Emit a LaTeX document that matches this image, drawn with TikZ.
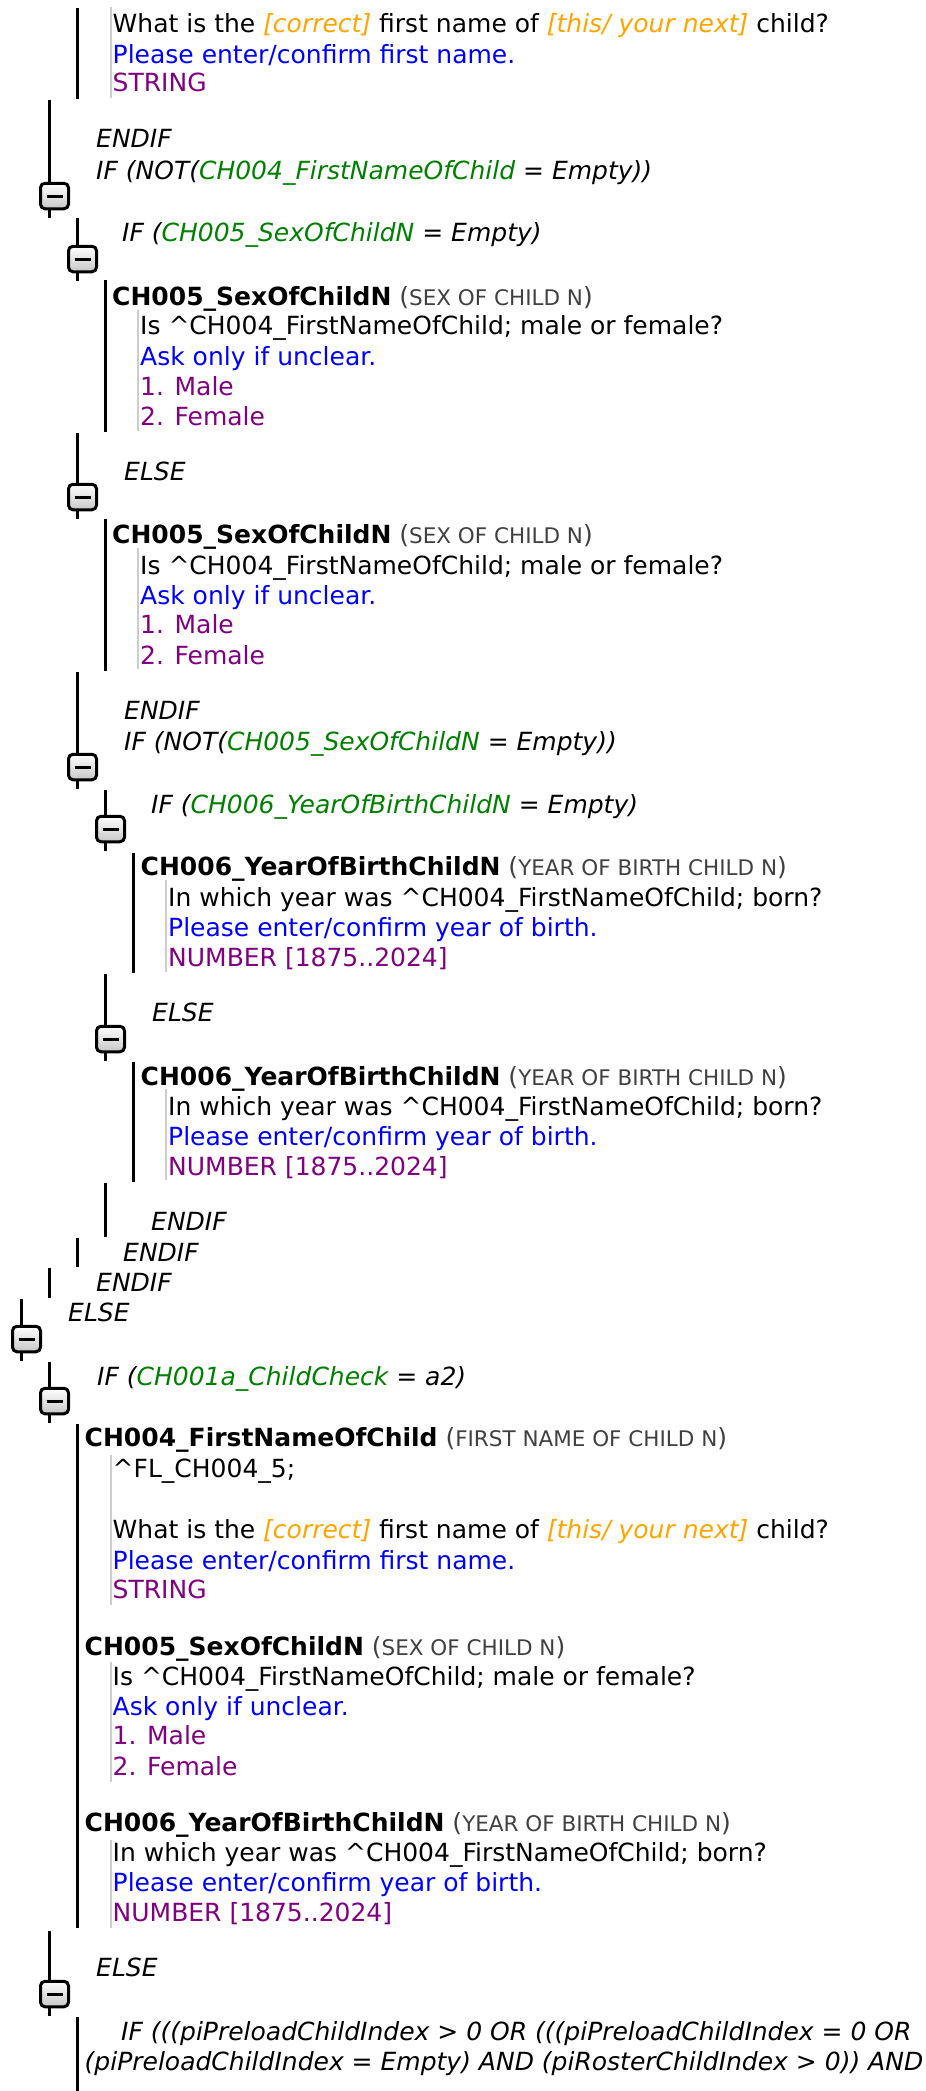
\documentclass[tikz,border=0pt]{standalone}
\usepackage{fontspec}
\setmainfont{DejaVu Sans}
\usepackage{tikz}
\usetikzlibrary{positioning}

\definecolor{qorange}{RGB}{255,165,0}
\definecolor{qblue}{RGB}{0,0,255}
\definecolor{qpurple}{RGB}{128,0,128}
\definecolor{qgreen}{RGB}{0,128,0}
\definecolor{qgray}{RGB}{64,64,64}
\definecolor{qrule}{RGB}{205,205,205}

\begin{document}
\begin{tikzpicture}[x=1pt, y=-1pt,
  body/.style={anchor=base west, inner sep=0pt, font=\fontsize{25}{30}\selectfont},
  cond/.style={body, font=\fontsize{25}{30}\selectfont\itshape},
  head/.style={body},
  rail/.style={line width=3.8pt},
  guide/.style={draw=qrule, line width=1.4pt},
  toggle/.style={draw, line width=3pt, rounded corners=4.5pt, minimum width=28pt,
    minimum height=25.5pt, inner sep=0pt, top color=white, bottom color=black!22,
    path picture={\draw [line width=3pt] ([xshift=-8pt]path picture bounding box.center)
      -- ([xshift=8pt]path picture bounding box.center);}}]

\path [use as bounding box, fill=white] (0,0) rectangle (926,2091);

\foreach \x/\a/\b in {77.5/8/99, 105.5/280/432, 105.5/519/671, 133.5/853/973,
    133.5/1062/1182, 105.5/1183/1237, 77.5/1238/1267, 49.5/1268/1298,
    77.5/1424/1928, 77.5/2017/2091}
  \draw [rail] (\x,\a) -- (\x,\b);

\foreach \x/\a/\b [count=\i] in {49.5/100/182, 77.5/218/245, 77.5/433/483,
    77.5/672/753, 105.5/790/815, 105.5/974/1025, 21.5/1299/1325,
    49.5/1362/1387, 49.5/1931/1980}
{
  \node [toggle] (toggle-\i) at (\x+5,\b+14) {};
  \draw [rail] (\x,\a) -- ([xshift=-5pt]toggle-\i.north);
  \draw [rail] ([xshift=-5pt]toggle-\i.south) -- ++(0,8);
}

\foreach \x/\a/\b in {111/7/98, 138/310/431, 138/548/669, 166/880/972,
    166/1089/1180, 111/1455/1605, 111/1662/1782, 111/1840/1928}
  \draw [guide] (\x,\a) -- (\x,\b);

\foreach \x/\y/\n/\l [count=\i] in {112/305/CH005\_SexOfChildN/SEX OF CHILD N,
    112/543/CH005\_SexOfChildN/SEX OF CHILD N,
    140.5/875/CH006\_YearOfBirthChildN/YEAR OF BIRTH CHILD N,
    140.5/1085/CH006\_YearOfBirthChildN/YEAR OF BIRTH CHILD N,
    84.5/1446/CH004\_FirstNameOfChild/FIRST NAME OF CHILD N,
    84.5/1655/CH005\_SexOfChildN/SEX OF CHILD N,
    84.5/1831/CH006\_YearOfBirthChildN/YEAR OF BIRTH CHILD N}
  \node [head] (head-\i) at (\x,\y)
    {\textbf{\n} \textcolor{qgray}{({\fontsize{21.5}{24}\selectfont\l})}};

\foreach \x/\y/\col/\l [count=\i] in {
    112.5/32/black/{What is the \textcolor{qorange}{\itshape[correct]} first name of \textcolor{qorange}{\itshape[this/ your next]} child?},
    112.5/63/qblue/{Please enter/confirm first name.},
    112.5/91/qpurple/{STRING},
    140/334/black/{Is \textasciicircum CH004\_FirstNameOfChild; male or female?},
    140/365/qblue/{Ask only if unclear.},
    140/395/qpurple/{1. Male},
    140/425/qpurple/{2. Female},
    140/574/black/{Is \textasciicircum CH004\_FirstNameOfChild; male or female?},
    140/604/qblue/{Ask only if unclear.},
    140/633/qpurple/{1. Male},
    140/664/qpurple/{2. Female},
    168/906/black/{In which year was \textasciicircum CH004\_FirstNameOfChild; born?},
    168/936/qblue/{Please enter/confirm year of birth.},
    168/966/qpurple/{NUMBER [1875..2024]},
    168/1115/black/{In which year was \textasciicircum CH004\_FirstNameOfChild; born?},
    168/1145/qblue/{Please enter/confirm year of birth.},
    168/1175/qpurple/{NUMBER [1875..2024]},
    112.5/1477/black/{\textasciicircum FL\_CH004\_5;},
    112.5/1538/black/{What is the \textcolor{qorange}{\itshape[correct]} first name of \textcolor{qorange}{\itshape[this/ your next]} child?},
    112.5/1569/qblue/{Please enter/confirm first name.},
    112.5/1598/qpurple/{STRING},
    112.5/1685/black/{Is \textasciicircum CH004\_FirstNameOfChild; male or female?},
    112.5/1715/qblue/{Ask only if unclear.},
    112.5/1744/qpurple/{1. Male},
    112.5/1775/qpurple/{2. Female},
    112.5/1861/black/{In which year was \textasciicircum CH004\_FirstNameOfChild; born?},
    112.5/1891/qblue/{Please enter/confirm year of birth.},
    112.5/1921/qpurple/{NUMBER [1875..2024]}}
  \node [body, text=\col] (line-\i) at (\x,\y) {\l};

\foreach \x/\y/\l [count=\i] in {96/147/ENDIF,
    96/179/{IF (NOT(\textcolor{qgreen}{CH004\_FirstNameOfChild} = Empty))},
    122/241/{IF (\textcolor{qgreen}{CH005\_SexOfChildN} = Empty)},
    124/480/ELSE,
    124/719/ENDIF,
    124/750/{IF (NOT(\textcolor{qgreen}{CH005\_SexOfChildN} = Empty))},
    151/813/{IF (\textcolor{qgreen}{CH006\_YearOfBirthChildN} = Empty)},
    152/1021/ELSE,
    151/1230/ENDIF,
    123/1261/ENDIF,
    96/1291/ENDIF,
    68/1321/ELSE,
    97/1385/{IF (\textcolor{qgreen}{CH001a\_ChildCheck} = a2)},
    96/1976/ELSE,
    121/2040/{IF (((piPreloadChildIndex > 0 OR (((piPreloadChildIndex = 0 OR},
    84.5/2070/{(piPreloadChildIndex = Empty) AND (piRosterChildIndex > 0)) AND}}
  \node [cond] (cond-\i) at (\x,\y) {\l};

\end{tikzpicture}
\end{document}
